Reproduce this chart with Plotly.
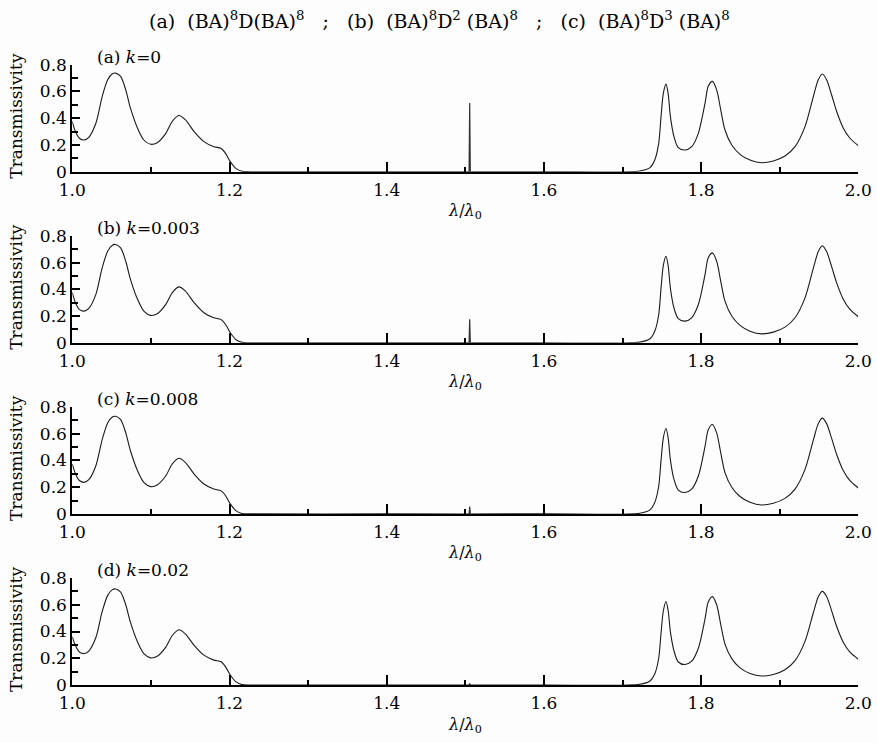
import plotly.graph_objects as go

# ---------------- data ----------------
WAVE = [1.000, 1.004, 1.009, 1.015, 1.021, 1.030, 1.038, 1.045, 1.051, 1.055,
        1.0615, 1.068, 1.074, 1.083, 1.091, 1.0997, 1.108, 1.119, 1.127, 1.1357,
        1.144, 1.155, 1.1675, 1.180, 1.189, 1.195, 1.201, 1.208, 1.216, 1.227,
        1.40, 1.60, 1.722, 1.735, 1.741, 1.746, 1.749, 1.752, 1.7553, 1.758,
        1.761, 1.7655, 1.771, 1.7795, 1.788, 1.7965, 1.805, 1.809, 1.8143, 1.8198,
        1.825, 1.8304, 1.839, 1.8495, 1.8622, 1.877, 1.892, 1.9067, 1.9195, 1.9322,
        1.9428, 1.9491, 1.9542, 1.9597, 1.966, 1.9725, 1.981, 1.9894, 2.0]

T_A = [0.375, 0.30, 0.25, 0.237, 0.257, 0.362, 0.562, 0.687, 0.732, 0.737,
       0.712, 0.612, 0.475, 0.325, 0.237, 0.205, 0.217, 0.287, 0.375, 0.42,
       0.387, 0.30, 0.225, 0.187, 0.175, 0.137, 0.075, 0.025, 0.003, 0.0,
       0.0, 0.0, 0.005, 0.03, 0.087, 0.21, 0.41, 0.587, 0.655, 0.587,
       0.41, 0.262, 0.18, 0.162, 0.187, 0.287, 0.512, 0.637, 0.675, 0.612,
       0.462, 0.312, 0.20, 0.13, 0.087, 0.067, 0.08, 0.117, 0.187, 0.337,
       0.562, 0.687, 0.73, 0.687, 0.575, 0.45, 0.325, 0.25, 0.195]

T_B = [0.375, 0.30, 0.25, 0.237, 0.257, 0.362, 0.560, 0.685, 0.730, 0.735,
       0.710, 0.610, 0.474, 0.325, 0.237, 0.205, 0.217, 0.287, 0.374, 0.418,
       0.386, 0.30, 0.225, 0.187, 0.175, 0.137, 0.075, 0.025, 0.003, 0.0,
       0.0, 0.0, 0.005, 0.03, 0.086, 0.208, 0.405, 0.580, 0.647, 0.580,
       0.405, 0.260, 0.18, 0.162, 0.187, 0.286, 0.510, 0.634, 0.672, 0.610,
       0.460, 0.311, 0.20, 0.13, 0.087, 0.067, 0.08, 0.117, 0.187, 0.336,
       0.558, 0.682, 0.725, 0.682, 0.571, 0.448, 0.324, 0.25, 0.195]

T_C = [0.372, 0.30, 0.25, 0.236, 0.256, 0.360, 0.556, 0.680, 0.725, 0.730,
       0.705, 0.607, 0.472, 0.323, 0.236, 0.204, 0.216, 0.285, 0.372, 0.416,
       0.384, 0.298, 0.224, 0.186, 0.174, 0.136, 0.075, 0.025, 0.003, 0.0,
       0.0, 0.0, 0.005, 0.03, 0.085, 0.205, 0.398, 0.570, 0.638, 0.572,
       0.400, 0.258, 0.178, 0.160, 0.185, 0.283, 0.505, 0.628, 0.668, 0.606,
       0.457, 0.309, 0.199, 0.13, 0.087, 0.067, 0.08, 0.116, 0.185, 0.333,
       0.552, 0.675, 0.716, 0.675, 0.566, 0.444, 0.322, 0.248, 0.194]

T_D = [0.359, 0.295, 0.247, 0.235, 0.254, 0.355, 0.548, 0.670, 0.713, 0.718,
       0.694, 0.600, 0.468, 0.322, 0.235, 0.203, 0.215, 0.283, 0.368, 0.413,
       0.381, 0.297, 0.223, 0.186, 0.175, 0.136, 0.075, 0.025, 0.003, 0.0,
       0.0, 0.0, 0.005, 0.03, 0.082, 0.198, 0.385, 0.555, 0.624, 0.560,
       0.395, 0.255, 0.172, 0.153, 0.178, 0.275, 0.495, 0.618, 0.661, 0.600,
       0.452, 0.306, 0.197, 0.128, 0.086, 0.067, 0.079, 0.114, 0.182, 0.326,
       0.540, 0.660, 0.700, 0.662, 0.556, 0.437, 0.318, 0.246, 0.193]

CURVES = [T_A, T_B, T_C, T_D]
SPIKE_X = 1.5056
SPIKE_H = [0.513, 0.175, 0.055, 0.012]
PANEL_LABELS = ["(a) <i>k</i>=0", "(b) <i>k</i>=0.003",
                "(c) <i>k</i>=0.008", "(d) <i>k</i>=0.02"]
X_MAJOR = [1.0, 1.2, 1.4, 1.6, 1.8, 2.0]
X_MAJOR_TEXT = ["1.0", "1.2", "1.4", "1.6", "1.8", "2.0"]
X_MINOR = [1.1, 1.3, 1.5, 1.7, 1.9]
Y_MAJOR = [0, 0.2, 0.4, 0.6, 0.8]
Y_MAJOR_TEXT = ["0", "0.2", "0.4", "0.6", "0.8"]
Y_MINOR = [0.1, 0.3, 0.5, 0.7]
SP = "\u00a0"
TITLE = ("(a)" + SP * 2 + "(BA)<sup>8</sup>D(BA)<sup>8</sup>" + SP * 3 + ";" + SP * 3 +
         "(b)" + SP * 2 + "(BA)<sup>8</sup>D<sup>2</sup>" + SP + "(BA)<sup>8</sup>" + SP * 3 + ";" + SP * 3 +
         "(c)" + SP * 2 + "(BA)<sup>8</sup>D<sup>3</sup>" + SP + "(BA)<sup>8</sup>")

# ---------------- layout ----------------
W, H = 877, 743
FONT = "DejaVu Serif"
X0, X1 = 72.3, 858.3
BASE0, STEP, PH = 171.7, 171.1, 107.0


def xp(px):
    return px / W


def yp(py):
    return 1 - py / H


fig = go.Figure()
annotations = []
layout = {}
for i, (T, h) in enumerate(zip(CURVES, SPIKE_H)):
    n = "" if i == 0 else str(i + 1)
    base = BASE0 + i * STEP
    top = base - PH
    fig.add_trace(go.Scatter(x=WAVE, y=T, mode="lines",
                             line=dict(color="#1a1a1a", width=1.1, shape="spline", smoothing=0.8),
                             xaxis="x" + n, yaxis="y" + n, showlegend=False, hoverinfo="skip"))
    fig.add_trace(go.Scatter(x=[SPIKE_X - 0.0008, SPIKE_X, SPIKE_X + 0.0008], y=[0, h, 0],
                             mode="lines", line=dict(color="#333", width=1.2),
                             xaxis="x" + n, yaxis="y" + n, showlegend=False, hoverinfo="skip"))
    layout["xaxis" + n] = dict(
        domain=[xp(X0), xp(X1)], range=[1.0, 2.0], anchor="y" + n, automargin=False,
        showline=True, linewidth=2, linecolor="#000", showgrid=False, zeroline=False,
        ticks="inside", tickvals=X_MAJOR, ticktext=X_MAJOR_TEXT, ticklen=10, tickwidth=2,
        tickcolor="#000", ticklabelstandoff=2,
        minor=dict(tickvals=X_MINOR, ticks="inside", ticklen=5, tickwidth=2, tickcolor="#000"),
        tickfont=dict(family=FONT, size=17, color="#000"), fixedrange=True)
    layout["yaxis" + n] = dict(
        domain=[yp(base), yp(top)], range=[0, 0.8], anchor="x" + n, automargin=False,
        showline=True, linewidth=2, linecolor="#000", showgrid=False, zeroline=False,
        ticks="inside", tickvals=Y_MAJOR, ticktext=Y_MAJOR_TEXT, ticklen=8, tickwidth=2,
        tickcolor="#000",
        minor=dict(tickvals=Y_MINOR, ticks="inside", ticklen=6, tickwidth=2, tickcolor="#000"),
        tickfont=dict(family=FONT, size=17, color="#000"), fixedrange=True)
    # axis titles
    annotations.append(dict(text="<i>λ</i>/<i>λ</i><sub>0</sub>", xref="paper", yref="paper",
                            x=xp(465), y=yp(base + 40), showarrow=False,
                            xanchor="center", yanchor="middle",
                            font=dict(family=FONT, size=16, color="#000")))
    annotations.append(dict(text="Transmissivity", xref="paper", yref="paper",
                            x=xp(16), y=yp(base - 56), showarrow=False, textangle=-90,
                            xanchor="center", yanchor="middle",
                            font=dict(family=FONT, size=17, color="#000")))
    annotations.append(dict(text=PANEL_LABELS[i], xref="paper", yref="paper",
                            x=xp(95), y=yp(top - 8), xanchor="left", yanchor="middle",
                            showarrow=False,
                            font=dict(family=FONT, size=17, color="#000")))

annotations.append(dict(text=TITLE, xref="paper", yref="paper", x=xp(439), y=yp(20),
                        xanchor="center", yanchor="middle", showarrow=False,
                        font=dict(family=FONT, size=19, color="#000")))

fig.update_layout(width=W, height=H, margin=dict(l=0, r=0, t=0, b=0, autoexpand=False),
                  paper_bgcolor="#fdfdfd", plot_bgcolor="rgba(0,0,0,0)",
                  annotations=annotations, **layout)
fig.write_html("out.html")
